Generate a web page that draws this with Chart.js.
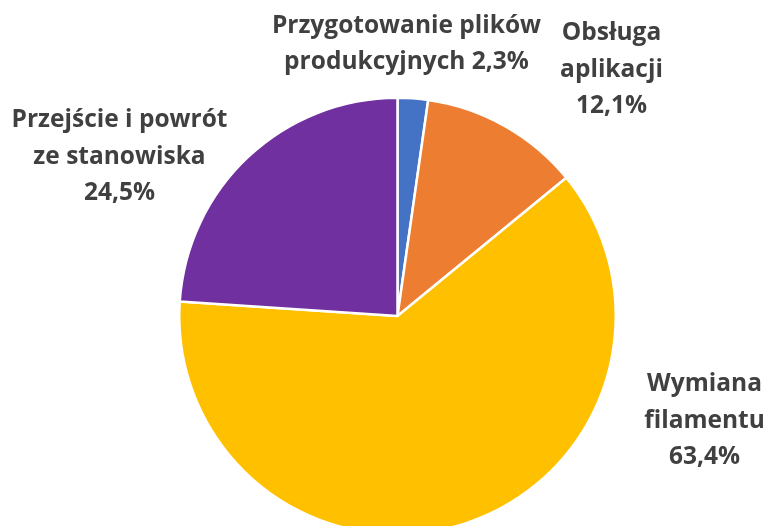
<!DOCTYPE html>
<html>
<head>
<meta charset="utf-8">
<script src="https://cdn.jsdelivr.net/npm/chart.js@4/dist/chart.umd.min.js"></script>
<style>
  html, body { margin: 0; padding: 0; background: #fff; overflow: hidden; }
  #wrap { width: 768px; height: 560px; position: relative; }
</style>
</head>
<body>
<div id="wrap"><canvas id="pieChart"></canvas></div>
<script>
// Kategorie (podzielone na linie etykiety) i udziały w %
const kategorie = [
  ['Przygotowanie plików', 'produkcyjnych'],
  ['Obsługa', 'aplikacji'],
  ['Wymiana', 'filamentu'],
  ['Przejście i powrót', 'ze stanowiska']
];
const udzialy = [2.3, 12.1, 63.4, 24.5];
const kolory = ['#4472C4', '#ED7D31', '#FFC000', '#7030A0'];

// Położenie etykiet względem środka koła (px) i czy wartość w tej samej linii
const pozycjeEtykiet = [
  { dx: 9, dy: -272, wLinii: true },
  { dx: 214, dy: -246, wLinii: false },
  { dx: 307, dy: 105, wLinii: false },
  { dx: -278, dy: -159, wLinii: false }
];
const FONT = 'bold 24.5px "Open Sans", sans-serif';
const ODSTEP = 36.5;

function formatujProcent(v) {
  return v.toFixed(1).replace('.', ',') + '%';
}

const etykietyPlugin = {
  id: 'etykiety',
  afterDraw(chart) {
    const ctx = chart.ctx;
    const luk = chart.getDatasetMeta(0).data[0];
    const cx = luk.x, cy = luk.y;
    ctx.save();
    ctx.font = FONT;
    ctx.fillStyle = '#404040';
    ctx.textAlign = 'center';
    ctx.textBaseline = 'middle';
    udzialy.forEach((v, i) => {
      const poz = pozycjeEtykiet[i];
      const linie = kategorie[i].slice();
      if (poz.wLinii) {
        linie[linie.length - 1] += ' ' + formatujProcent(v);
      } else {
        linie.push(formatujProcent(v));
      }
      const start = cy + poz.dy - (linie.length - 1) * ODSTEP / 2;
      linie.forEach((t, j) => ctx.fillText(t, cx + poz.dx, start + j * ODSTEP));
    });
    ctx.restore();
  }
};

const ctx = document.getElementById('pieChart').getContext('2d');
new Chart(ctx, {
  type: 'pie',
  data: {
    labels: kategorie.map(k => k.join(' ')),
    datasets: [{
      data: udzialy,
      backgroundColor: kolory,
      borderColor: '#ffffff',
      borderWidth: 2.5
    }]
  },
  options: {
    responsive: true,
    maintainAspectRatio: false,
    animation: false,
    layout: { padding: { left: 178, right: 151, top: 96, bottom: 24 } },
    plugins: {
      legend: { display: false },
      tooltip: { enabled: false },
      title: { display: false }
    }
  },
  plugins: [etykietyPlugin]
});
</script>
</body>
</html>
